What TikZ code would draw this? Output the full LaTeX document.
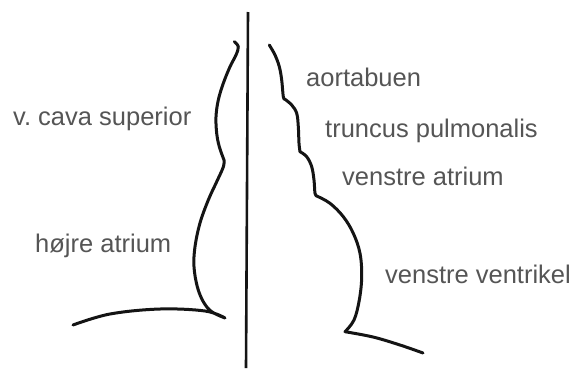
\documentclass[tikz,border=0pt]{standalone}
\usepackage{fontspec}
\setmainfont{Liberation Sans}
\definecolor{labelgray}{RGB}{85,85,85}
\definecolor{inkline}{RGB}{20,20,20}
\begin{document}
\begin{tikzpicture}[x=1pt,y=-1pt,
  outline/.style={draw=inkline,line width=3pt,line cap=round,line join=round},
  midline/.style={draw=inkline,line width=2.6pt},
  organ/.style={anchor=base west,inner sep=0pt,text=labelgray,
    font=\fontsize{25.5}{30}\selectfont}]
\useasboundingbox[fill=white] (0,0) rectangle (580,370);

% median line
\coordinate (mtop) at (248,12);
\coordinate (mbot) at (246,368);
\draw[midline] (mtop) -- (mbot);

% right heart border: v. cava superior and right atrium, ending on the diaphragm
\draw[outline]
  plot[smooth,tension=0.6] coordinates {(73,325) (110,314) (160,309) (205,311) (225,318)}
  -- plot[smooth,tension=0.6] coordinates {(225,318) (211.7,311.7) (203.3,301.7) (197.3,286.7)
     (194,266.7) (195,246.7) (200,223) (208.3,200) (216.7,181.7) (223.3,167) (224,160)}
  -- plot[smooth,tension=0.6] coordinates {(224,160) (219.3,146.7) (216.7,133.3) (216,116.7)
     (218.3,100) (223.3,83.3) (230,66.7) (236,55) (238.3,46.7) (234.3,41.7)};

% left heart border: aortic arch, pulmonary trunk, left atrium, left ventricle
\draw[outline]
  plot[smooth,tension=0.6] coordinates {(269.3,45) (275,55) (279.3,66.7) (281.7,80) (283.3,96.7) (285,99.3)}
  -- plot[smooth,tension=0.6] coordinates {(285,99.3) (291.7,105) (296.7,113.3) (298.3,126.7) (299,143.3) (300,151.7)}
  -- plot[smooth,tension=0.6] coordinates {(300,151.7) (306.7,156.7) (311.7,166.7) (314,180) (315,193.3) (316.7,196)}
  -- plot[smooth,tension=0.6] coordinates {(316.7,196) (330,203.3) (343.3,216.7) (353.3,233.3) (360,253.3)
     (361.7,276.7) (359.3,300) (354,320) (345,331.7)}
  -- plot[smooth,tension=0.6] coordinates {(345,331.7) (373,337) (400,345) (423,353)};

% labels
\node[organ] (vcava)  at (13,125)  {v.\ cava superior};
\node[organ] (hatr)   at (35,252)  {højre atrium};
\node[organ] (aorta)  at (306,86)  {aortabuen};
\node[organ] (trunc)  at (325,137) {truncus pulmonalis};
\node[organ] (vatr)   at (342,185) {venstre atrium};
\node[organ] (vvent)  at (385,283) {venstre ventrikel};
\end{tikzpicture}
\end{document}
